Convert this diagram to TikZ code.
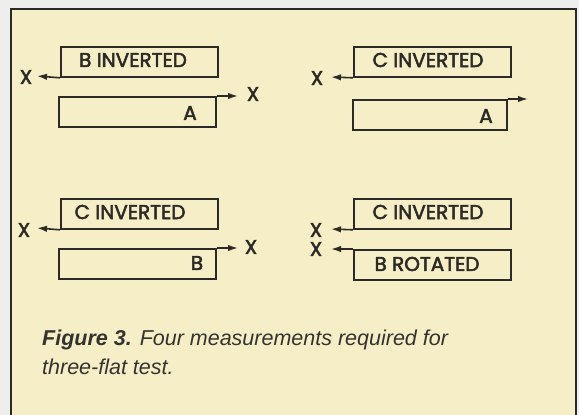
\documentclass[tikz,border=0pt]{standalone}
\usepackage{fontspec}
\setmainfont{Liberation Sans}
\newfontfamily\boxfont{Poppins}[FakeBold=2.5]
\usetikzlibrary{arrows.meta}
\definecolor{bgout}{HTML}{EEEEEC}
\definecolor{paper}{HTML}{F6EEC6}
\definecolor{ink}{HTML}{2B2A26}
\definecolor{capink}{HTML}{34332F}
\tikzset{
  plate/.style={draw=ink, line width=1.8pt, minimum width=157pt, minimum height=30pt, inner sep=0pt, anchor=north west},
  lbl/.style={font=\boxfont\fontsize{20}{20}\selectfont, text=ink, inner sep=0pt},
  xlbl/.style={font=\boxfont\fontsize{20}{20}\selectfont, text=ink, inner sep=0pt},
  arr/.style={draw=ink, line width=1.6pt, -{Latex[length=10pt,width=6.5pt]}},
}
\begin{document}
\begin{tikzpicture}[x=1pt,y=-1pt]
\useasboundingbox (0,0) rectangle (579,415);
\fill[bgout] (0,0) rectangle (579,415);
\fill[paper] (11,9) rectangle (576,420);
\draw[ink, line width=1.8pt] (11,420) -- (11,9) -- (576,9) -- (576,420);
% panel 1
\node[plate] (b1) at (60,46) {};
\node[lbl] (t1) at (133,60) {B INVERTED};
\node[plate] (a1) at (58,96) {};
\node[lbl] (ta1) at (190,113) {A};
\coordinate (p1) at (37,76);
\node[xlbl] (x1) at (26,77) {X};
\draw[arr] (b1.south west) -- (p1);
\coordinate (q1) at (238,96);
\node[xlbl] (y1) at (253,94) {X};
\draw[arr] (a1.north east) -- (q1);
% panel 2
\node[plate] (b2) at (353,46) {};
\node[lbl] (t2) at (428,60) {C INVERTED};
\node[plate, minimum width=154pt] (a2) at (352,99) {};
\node[lbl] (ta2) at (486,116) {A};
\coordinate (p2) at (331,77);
\node[xlbl] (x2) at (317,78) {X};
\draw[arr] (b2.south west) -- (p2);
\coordinate (q2) at (528,99);
\draw[arr] (a2.north east) -- (q2);
% panel 3
\node[plate] (b3) at (60,198) {};
\node[lbl] (t3) at (130,212) {C INVERTED};
\node[plate] (a3) at (58,248) {};
\node[lbl] (ta3) at (197,263) {B};
\coordinate (p3) at (37,228);
\node[xlbl] (x3) at (24,230) {X};
\draw[arr] (b3.south west) -- (p3);
\coordinate (q3) at (238,248);
\node[xlbl] (y3) at (251,247) {X};
\draw[arr] (a3.north east) -- (q3);
% panel 4
\node[plate] (b4) at (353,198) {};
\node[lbl] (t4) at (428,212) {C INVERTED};
\node[plate] (a4) at (353,249) {};
\node[lbl] (ta4) at (427,264) {B ROTATED};
\coordinate (p4) at (331,229);
\node[xlbl] (x4) at (316,230) {X};
\draw[arr] (b4.south west) -- (p4);
\coordinate (q4) at (331,249);
\node[xlbl] (y4) at (316,249) {X};
\draw[arr] (a4.north west) -- (q4);
% caption
\node[anchor=base west, inner sep=0pt, text=capink, font=\fontsize{21.5}{21.5}\selectfont\itshape] (c1) at (42,345) {\textbf{Figure 3.} Four measurements required for};
\node[anchor=base west, inner sep=0pt, text=capink, font=\fontsize{21.5}{21.5}\selectfont\itshape] (c2) at (42,374) {three-flat test.};
\end{tikzpicture}
\end{document}
